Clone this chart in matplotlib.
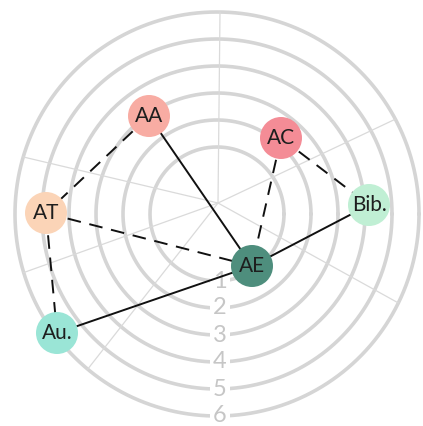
import numpy as np
import matplotlib
matplotlib.use("Agg")
import matplotlib.pyplot as plt
from matplotlib.patches import Circle

# ---- data ----
ring_labels = ["1", "2", "3", "4", "5", "6"]
ring_radii = [67, 94, 121, 148, 175, 202]          # grid units
spoke_angles = [89.4, 25.3, -29.0, 166.7, 199.7, 231.9]  # degrees
spoke_origin = (1, 11)

node_names = ["AA", "AC", "Bib.", "AT", "AE", "Au."]
node_x = [-68, 64, 152, -171, 35, -160]
node_y = [98, 76, 9, 1, -52, -119]
node_colors = ["#F8ACA3", "#F48C96", "#C0EFD4", "#FBD4B7", "#4E8E7D", "#9AE5D6"]

edge_from = ["AA", "AC", "AC", "Bib.", "AA", "AT", "AT", "Au."]
edge_to = ["AE", "AE", "Bib.", "AE", "AT", "AE", "Au.", "AE"]
edge_dashed = [False, True, True, False, True, True, True, False]

# ---- figure ----
W, H = 423, 426
fig = plt.figure(figsize=(W / 100, H / 100), dpi=100)
ax = fig.add_axes([0, 0, 1, 1])
ax.set_xlim(-217, W - 217)
ax.set_ylim(214 - H, 214)
ax.set_aspect("equal")
ax.axis("off")

ring_color = "#D5D5D5"
t = np.linspace(0, 2 * np.pi, 400)
for r in ring_radii:
    ax.plot(r * np.cos(t), r * np.sin(t), color=ring_color, lw=2.6, zorder=1,
            solid_capstyle="round")

# spokes: from origin to outer ring
R = ring_radii[-1]
ox, oy = spoke_origin
for a in spoke_angles:
    dx, dy = np.cos(np.radians(a)), np.sin(np.radians(a))
    b = ox * dx + oy * dy
    c = ox * ox + oy * oy - R * R
    s = -b + np.sqrt(b * b - c)
    ax.plot([ox, ox + s * dx], [oy, oy + s * dy], color="#DADADA", lw=0.9, zorder=1)

for lab, r in zip(ring_labels, ring_radii):
    ax.text(3, -r, lab, ha="center", va="center", fontsize=17, color="#C6C6C6",
            family=["Lato", "DejaVu Sans"], zorder=2,
            bbox=dict(boxstyle="square,pad=0.12", fc="white", ec="none"))

pos = {n: (x, y) for n, x, y in zip(node_names, node_x, node_y)}
for a, b, d in zip(edge_from, edge_to, edge_dashed):
    (x1, y1), (x2, y2) = pos[a], pos[b]
    ax.plot([x1, x2], [y1, y2], color="#111111", lw=1.4, zorder=3,
            linestyle=(0, (7, 4.5)) if d else "-")

for n, x, y, c in zip(node_names, node_x, node_y, node_colors):
    ax.add_patch(Circle((x, y), 21, fc=c, ec="none", zorder=4))
    ax.text(x, y, n, ha="center", va="center", fontsize=15, color="#1E1E1E",
            family=["Lato", "DejaVu Sans"], zorder=5)

fig.savefig("out.png", dpi=100)
